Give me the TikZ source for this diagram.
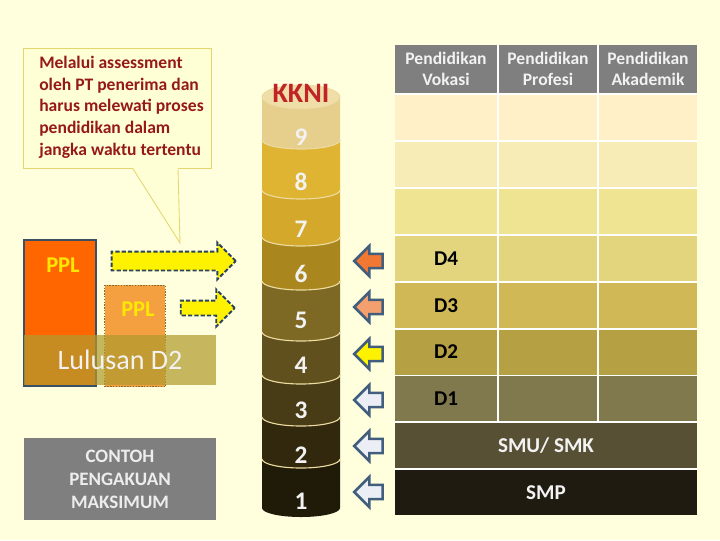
\documentclass[tikz,border=0pt]{standalone}
\usepackage{fontspec}
\setmainfont{Carlito}
\usetikzlibrary{shapes.arrows, positioning, calc}

% colours
\definecolor{bgcol}{RGB}{255,255,221}
\definecolor{callfill}{RGB}{255,255,213}
\definecolor{callline}{RGB}{228,214,110}
\definecolor{calltxt}{RGB}{150,25,25}
\definecolor{kknired}{RGB}{192,36,38}
\definecolor{arrline}{RGB}{65,95,125}
\definecolor{dashline}{RGB}{40,66,92}
\definecolor{headcol}{RGB}{127,127,127}
\definecolor{lvtop}{RGB}{240,222,168}
\definecolor{lv9}{RGB}{230,206,140}
\definecolor{lv8}{RGB}{222,180,50}
\definecolor{lv7}{RGB}{212,168,42}
\definecolor{lv6}{RGB}{170,135,30}
\definecolor{lv5}{RGB}{125,105,35}
\definecolor{lv4}{RGB}{95,80,30}
\definecolor{lv3}{RGB}{72,60,22}
\definecolor{lv2}{RGB}{50,40,14}
\definecolor{lv1}{RGB}{32,26,8}
\definecolor{sepcol}{RGB}{236,218,160}
\definecolor{row9}{RGB}{255,240,200}
\definecolor{row8}{RGB}{247,236,182}
\definecolor{row7}{RGB}{238,228,145}
\definecolor{rowD4}{RGB}{226,213,126}
\definecolor{rowD3}{RGB}{208,184,87}
\definecolor{rowD2}{RGB}{181,160,67}
\definecolor{rowD1}{RGB}{129,121,78}
\definecolor{rowSMU}{RGB}{87,80,53}
\definecolor{rowSMP}{RGB}{31,27,16}
\definecolor{pplA}{RGB}{255,102,0}
\definecolor{pplB}{RGB}{244,160,64}
\definecolor{pplline}{RGB}{60,80,100}
\definecolor{pplBline}{RGB}{130,112,50}
\definecolor{lulusan}{RGB}{177,154,46}
\definecolor{arrorange}{RGB}{240,120,50}
\definecolor{arrsalmon}{RGB}{244,160,110}
\definecolor{arrpale}{RGB}{235,238,245}

\begin{document}
\begin{tikzpicture}[x=0.025cm, y=-0.025cm,
    larrow/.style={single arrow, shape border rotate=180, draw=arrline, line width=1.8pt,
        minimum height=0.71cm, inner sep=0pt, inner ysep=0.145cm,
        single arrow head extend=0.2cm, single arrow head indent=0pt},
    rarrow/.style={single arrow, fill=yellow, draw=dashline, line width=1.4pt,
        dash pattern=on 3pt off 1.5pt, inner sep=0pt, single arrow head indent=0pt},
    lvnum/.style={font=\bfseries\fontsize{18}{20}\selectfont, text=white!95!black},
    headtxt/.style={align=center, font=\bfseries\fontsize{12.5}{15}\selectfont, text=white!95!black},
    dlab/.style={font=\bfseries\fontsize{15}{18}\selectfont, text=black},
    pplbox/.style={minimum width=1.8cm, inner sep=0pt},
    ppltxt/.style={font=\bfseries\fontsize{16}{18}\selectfont, text=yellow!90!orange}
]
    % Background and bounding box
    \fill[bgcol] (0,0) rectangle (720,540);
    \useasboundingbox (0,0) rectangle (720,540);

    % Callout with note
    \node[fill=callfill, draw=callline, line width=0.6pt, anchor=north west,
          minimum width=4.7cm, minimum height=3cm] (callout) at (23,48) {};
    \node[anchor=north west, inner sep=0pt, align=left, text=calltxt,
          font=\bfseries\fontsize{12.5}{15.4}\selectfont] (calltext) at (39,56)
        {Melalui assessment\\oleh PT penerima dan\\harus melewati proses\\pendidikan dalam\\jangka waktu tertentu};
    \coordinate (tip) at (180,243);
    \fill[callfill] ($(callout.south west)+(110,-1)$) -- (tip) -- ($(callout.south west)+(155,-1)$) -- cycle;
    \draw[callline, line width=0.6pt] ($(callout.south west)+(110,0)$) -- (tip) -- ($(callout.south west)+(155,0)$);

    % PPL boxes
    \node[pplbox, fill=pplA, draw=pplline, line width=1.1pt, minimum height=3.65cm] (pplA) at (60,313) {};
    \node[ppltxt] (pplAtext) at (63,265) {PPL};
    \node[pplbox, fill=pplB, draw=pplBline, line width=1pt, densely dotted,
          minimum width=1.52cm, minimum height=2.53cm] (pplB) at (135,336) {};
    \node[ppltxt] (pplBtext) at (138,309) {PPL};

    % Lulusan D2 overlay
    \node[fill=lulusan, fill opacity=0.72, text opacity=1, text=white!95!black,
          minimum width=4.8cm, minimum height=1.23cm, inner sep=0pt,
          font=\fontsize{20}{22}\selectfont] (lulusan) at (120,360) {Lulusan D2};

    % Yellow arrows towards KKNI
    \node[rarrow, minimum height=3.1cm, inner ysep=0.2125cm, single arrow head extend=0.225cm] (pplarrA) at (169,261) {};
    \node[rarrow, minimum height=1.35cm, inner ysep=0.1625cm, single arrow head extend=0.275cm] (pplarrB) at (204,308) {};

    % Contoh box
    \node[fill=headcol, minimum width=4.8cm, minimum height=2.03cm, inner sep=0pt, align=center,
          text=white!93!black, font=\bfseries\fontsize{13.5}{16.4}\selectfont] (contoh) at (120,479)
        {CONTOH\\PENGAKUAN\\MAKSIMUM};

    % KKNI cylinder, bottom band first
    \foreach \ytop/\ybot/\col in {459/508/lv1, 417/459/lv2, 375/417/lv3, 332/375/lv4,
                                   281/332/lv5, 237/281/lv6, 190/237/lv7, 140/190/lv8, 97/140/lv9} {
        \fill[\col] (262,\ytop) -- (262,\ybot)
            arc[start angle=180, end angle=360, x radius=0.975cm, y radius=0.225cm] -- (340,\ytop) -- cycle;
    }
    \foreach \ybot in {140, 190, 237, 281, 332, 375, 417, 459} {
        \draw[sepcol, line width=0.8pt] (262,\ybot)
            arc[start angle=180, end angle=360, x radius=0.975cm, y radius=0.225cm];
    }
    \fill[lvtop] (301,97) ellipse [x radius=0.975cm, y radius=0.3cm];
    \draw[sepcol!80!lv9, line width=0.5pt] (301,97) ellipse [x radius=0.975cm, y radius=0.3cm];
    \node[text=kknired, font=\bfseries\fontsize{20}{22}\selectfont] (kkni) at (301,93) {KKNI};
    \foreach \n/\y in {9/137, 8/182, 7/229, 6/274, 5/320, 4/365, 3/410, 2/455, 1/501} {
        \node[lvnum] (lv\n) at (301,\y) {\n};
    }

    % Table of education paths
    \fill[white] (395,45) rectangle (697,515);
    \foreach \xa/\xb/\t in {395/497/Vokasi, 499/597/Profesi, 599/697/Akademik} {
        \fill[headcol] (\xa,45) rectangle (\xb,93);
        \node[headtxt] (head\t) at ({(\xa+\xb)/2},69) {Pendidikan\\\t};
    }
    \foreach \ya/\col in {95/row9, 142/row8, 189/row7, 236/rowD4, 283/rowD3, 330/rowD2, 376/rowD1} {
        \foreach \xa/\xb in {395/497, 499/597, 599/697} {
            \fill[\col] (\xa,\ya) rectangle (\xb,\ya+45);
        }
    }
    \fill[rowSMU] (395,423) rectangle (697,468);
    \fill[rowSMP] (395,470) rectangle (697,515);

    % Row labels
    \foreach \lab/\y in {D4/259, D3/306, D2/352, D1/399} {
        \node[dlab] (lab\lab) at (446,\y) {\lab};
    }
    \node[dlab, text=white!95!black] (labSMU) at (546,446) {SMU/ SMK};
    \node[dlab, text=white!95!black] (labSMP) at (546,493) {SMP};

    % Arrows from table to KKNI levels
    \foreach \n/\y/\c in {D4/261/arrorange, D3/307/arrsalmon, D2/354/yellow,
                          D1/400/arrpale, SMU/446/arrpale, SMP/492/arrpale} {
        \node[larrow, fill=\c] (arr\n) at (372,\y) {};
    }
\end{tikzpicture}
\end{document}
